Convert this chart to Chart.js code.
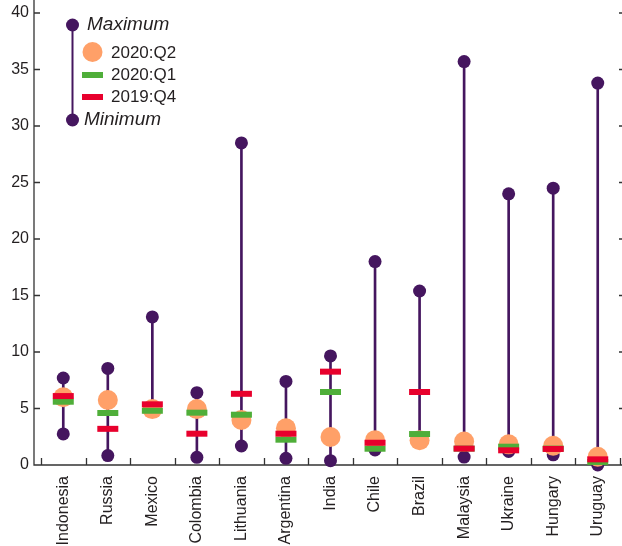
<!DOCTYPE html>
<html>
<head>
<meta charset="utf-8">
<script src="https://cdn.jsdelivr.net/npm/chart.js@4"></script>
<style>
  html, body { margin: 0; padding: 0; background: #fff; }
</style>
</head>
<body>
<canvas id="myChart" width="622" height="546"></canvas>
<script>
// dados
const paises = ["Indonesia", "Russia", "Mexico", "Colombia", "Lithuania", "Argentina", "India",
                "Chile", "Brazil", "Malaysia", "Ukraine", "Hungary", "Uruguay"];
const maximo = [7.7, 8.55, 13.1, 6.4, 28.5, 7.4, 9.65, 18.0, 15.4, 35.7, 24.0, 24.5, 33.8];
const minimo = [2.75, 0.83, 4.8, 0.68, 1.68, 0.59, 0.38, 1.33, 2.0, 0.7, 1.2, 0.9, 0.0];
const q2_2020 = [6.0, 5.75, 4.95, 4.95, 3.98, 3.25, 2.48, 2.2, 2.2, 2.07, 1.83, 1.7, 0.73];
const q1_2020 = [5.6, 4.6, 4.8, 4.63, 4.45, 2.24, 6.46, 1.44, 2.74, 1.45, 1.62, 1.45, 0.27];
const q4_2019 = [6.1, 3.2, 5.37, 2.77, 6.3, 2.77, 8.26, 1.97, 6.46, 1.45, 1.3, 1.42, 0.5];
const yTicks = [0, 5, 10, 15, 20, 25, 30, 35, 40];

const roxo = "#45165f";
const laranja = "#ffa068";
const verde = "#4fae39";
const vermelho = "#e8002d";
const texto = "#231f20";
const fonte = "'Liberation Sans', Arial, sans-serif";

Chart.defaults.font.family = fonte;
Chart.defaults.font.size = 16;
Chart.defaults.color = texto;

// eixos com marcas para dentro, desenhados por baixo dos pontos
const eixos = {
  id: "eixos",
  beforeDatasetsDraw(chart) {
    const ctx = chart.ctx;
    const a = chart.chartArea;
    const x = chart.scales.x;
    const y = chart.scales.y;
    const x0 = a.left - 7;
    ctx.save();
    ctx.strokeStyle = "#333";
    ctx.lineWidth = 1.3;
    ctx.beginPath();
    ctx.moveTo(x0, 0);
    ctx.lineTo(x0, a.bottom);
    ctx.lineTo(chart.width, a.bottom);
    yTicks.forEach(function (t) {
      const py = y.getPixelForValue(t);
      ctx.moveTo(x0, py);
      ctx.lineTo(x0 + 6, py);
      ctx.moveTo(chart.width, py);
      ctx.lineTo(chart.width - 3, py);
    });
    for (let i = 0; i <= paises.length; i++) {
      const px = Math.round(x.getPixelForValue(i - 0.5)) + 0.5;
      ctx.moveTo(px, a.bottom);
      ctx.lineTo(px, a.bottom - 7);
    }
    ctx.stroke();
    ctx.restore();
  },
  afterDraw(chart) {
    // legenda
    const ctx = chart.ctx;
    ctx.save();
    ctx.strokeStyle = roxo;
    ctx.lineWidth = 2;
    ctx.beginPath();
    ctx.moveTo(72.5, 25);
    ctx.lineTo(72.5, 120);
    ctx.stroke();
    ctx.fillStyle = roxo;
    [25, 120].forEach(function (py) {
      ctx.beginPath();
      ctx.arc(72.5, py, 6.5, 0, Math.PI * 2);
      ctx.fill();
    });
    ctx.fillStyle = laranja;
    ctx.beginPath();
    ctx.arc(92.5, 52, 10, 0, Math.PI * 2);
    ctx.fill();
    ctx.fillStyle = verde;
    ctx.fillRect(82, 72, 21, 6);
    ctx.fillStyle = vermelho;
    ctx.fillRect(82, 94, 21, 6);

    ctx.fillStyle = texto;
    ctx.textBaseline = "middle";
    ctx.textAlign = "left";
    ctx.font = "italic 19px " + fonte;
    ctx.fillText("Maximum", 87, 25);
    ctx.fillText("Minimum", 84, 120);
    ctx.font = "17px " + fonte;
    ctx.fillText("2020:Q2", 111, 53);
    ctx.fillText("2020:Q1", 111, 75);
    ctx.fillText("2019:Q4", 111, 97);
    ctx.restore();
  }
};

function pontos(label, data, cor, raio, estilo, borda, ordem) {
  return {
    type: "line",
    label: label,
    data: data,
    showLine: false,
    pointStyle: estilo,
    pointRadius: raio,
    pointHoverRadius: raio,
    pointBackgroundColor: cor,
    pointBorderColor: cor,
    pointBorderWidth: borda,
    clip: false,
    order: ordem,
  };
}

const hastes = paises.map(function (p, i) { return [minimo[i], maximo[i]]; });

const ctx2 = document.getElementById("myChart").getContext("2d");
const myChart = new Chart(ctx2, {
  data: {
    labels: paises,
    datasets: [
      pontos("2019:Q4", q4_2019, vermelho, 10.5, "line", 6, 0),
      pontos("2020:Q1", q1_2020, verde, 10.5, "line", 6, 1),
      pontos("2020:Q2", q2_2020, laranja, 10, "circle", 0, 2),
      pontos("Minimum", minimo, roxo, 6.5, "circle", 0, 3),
      pontos("Maximum", maximo, roxo, 6.5, "circle", 0, 4),
      {
        type: "bar",
        label: "range",
        data: hastes,
        backgroundColor: roxo,
        barThickness: 2,
        borderWidth: 0,
        order: 5,
      },
    ],
  },
  options: {
    responsive: false,
    animation: false,
    layout: { autoPadding: false, padding: { top: 13, right: 2, left: 0, bottom: 0 } },
    plugins: {
      legend: { display: false },
      tooltip: { enabled: false },
    },
    scales: {
      x: {
        type: "category",
        offset: true,
        grid: { display: false, drawTicks: false },
        border: { display: false },
        ticks: { maxRotation: 90, minRotation: 90, padding: 11, autoSkip: false },
        afterFit: function (s) {
          s.height = 81;
          s.paddingLeft = 0;
          s.paddingRight = 0;
        },
      },
      y: {
        type: "linear",
        min: 0,
        max: 40,
        grid: { display: false, drawTicks: false },
        border: { display: false },
        ticks: { stepSize: 5, padding: 12 },
        afterFit: function (s) {
          s.width = 41;
          s.paddingTop = 0;
          s.paddingBottom = 0;
        },
      },
    },
  },
  plugins: [eixos],
});
</script>
</body>
</html>
